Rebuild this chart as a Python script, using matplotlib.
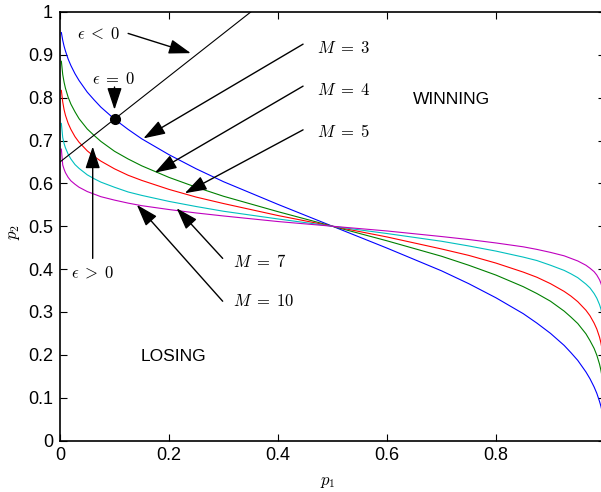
import numpy as np
import matplotlib
matplotlib.use('agg')
import matplotlib.pyplot as plt

plt.rcParams['mathtext.fontset'] = 'cm'
plt.rcParams['font.family'] = ['Liberation Sans', 'DejaVu Sans']

# p1 grid and p2 values, one list per M
p1 = [0.0025, 0.005, 0.0075, 0.01, 0.015, 0.02, 0.0275, 0.035, 0.05, 0.0625, 0.075, 0.1, 0.125, 0.15,
      0.2, 0.25, 0.3, 0.4, 0.5, 0.6, 0.7, 0.75, 0.8, 0.85, 0.875, 0.9, 0.925, 0.9375, 0.95, 0.965,
      0.9725, 0.98, 0.985, 0.99, 0.9925, 0.995, 0.9975]
p2_m3 = [0.952, 0.934, 0.920, 0.909, 0.890, 0.875, 0.856, 0.840, 0.813, 0.795, 0.778, 0.750, 0.726, 0.704,
         0.667, 0.634, 0.604, 0.551, 0.500, 0.449, 0.396, 0.366, 0.333, 0.296, 0.274, 0.250, 0.222, 0.205,
         0.187, 0.160, 0.144, 0.125, 0.110, 0.091, 0.080, 0.066, 0.048]
p2_m4 = [0.885, 0.854, 0.836, 0.822, 0.801, 0.785, 0.767, 0.751, 0.727, 0.712, 0.698, 0.675, 0.657, 0.641,
         0.614, 0.591, 0.570, 0.534, 0.500, 0.466, 0.430, 0.409, 0.386, 0.359, 0.343, 0.325, 0.302, 0.288,
         0.273, 0.249, 0.233, 0.215, 0.199, 0.178, 0.164, 0.146, 0.115]
p2_m5 = [0.817, 0.790, 0.772, 0.759, 0.740, 0.726, 0.709, 0.696, 0.676, 0.663, 0.652, 0.634, 0.619, 0.607,
         0.586, 0.568, 0.553, 0.525, 0.500, 0.475, 0.447, 0.432, 0.414, 0.393, 0.381, 0.366, 0.348, 0.337,
         0.324, 0.304, 0.291, 0.274, 0.260, 0.241, 0.228, 0.210, 0.183]
p2_m7 = [0.740, 0.707, 0.693, 0.683, 0.668, 0.657, 0.644, 0.635, 0.620, 0.611, 0.603, 0.591, 0.580, 0.572,
         0.558, 0.546, 0.535, 0.517, 0.500, 0.483, 0.465, 0.454, 0.442, 0.428, 0.420, 0.409, 0.397, 0.389,
         0.380, 0.365, 0.356, 0.343, 0.332, 0.317, 0.307, 0.293, 0.260]
p2_m10 = [0.680, 0.643, 0.633, 0.625, 0.614, 0.606, 0.598, 0.591, 0.581, 0.575, 0.569, 0.561, 0.554, 0.548,
          0.539, 0.531, 0.524, 0.511, 0.500, 0.489, 0.476, 0.469, 0.461, 0.452, 0.446, 0.439, 0.431, 0.425,
          0.419, 0.409, 0.402, 0.394, 0.386, 0.375, 0.367, 0.357, 0.320]

curves = [p2_m3, p2_m4, p2_m5, p2_m7, p2_m10]
colors = [(0, 0, 1), (0, 0.5, 0), (1, 0, 0), (0, 0.75, 0.75), (0.75, 0, 0.75)]

# epsilon = 0 line and the marked point
eps_p1 = [0.0, 0.35]
eps_p2 = [0.65, 1.0]
dot_p1, dot_p2 = 0.1, 0.75

xticks = [0, 0.2, 0.4, 0.6, 0.8, 1.0]
xtick_labels = ['0', '0.2', '0.4', '0.6', '0.8', '']
yticks = [0, 0.1, 0.2, 0.3, 0.4, 0.5, 0.6, 0.7, 0.8, 0.9, 1.0]
ytick_labels = ['0', '0.1', '0.2', '0.3', '0.4', '0.5', '0.6', '0.7', '0.8', '0.9', '1']

# (label, text pos, arrow start, arrow tip)
notes = [
    (r'$\epsilon\;<\;0$', (0.0716, 0.9487), (0.125, 0.950), (0.240, 0.904)),
    (r'$\epsilon\;=\;0$', (0.099, 0.844), (0.1, 0.825), (0.1, 0.772)),
    (r'$\epsilon\;>\;0$', (0.0596, 0.393), (0.06, 0.425), (0.06, 0.686)),
]
m_notes = [
    (r'$M\;=\;3$', (0.471, 0.917), (0.446, 0.925), (0.153, 0.705)),
    (r'$M\;=\;4$', (0.471, 0.818), (0.446, 0.827), (0.174, 0.625)),
    (r'$M\;=\;5$', (0.471, 0.721), (0.446, 0.725), (0.229, 0.577)),
    (r'$M\;=\;7$', (0.3174, 0.4166), (0.2985, 0.425), (0.214, 0.542)),
    (r'$M\;=\;10$', (0.3174, 0.3256), (0.2985, 0.325), (0.141, 0.550)),
]

fig = plt.figure(figsize=(6.01, 4.92), dpi=100)
ax = fig.add_axes([60/601, 51.5/492, 545/601, 428.5/492])

for ys, c in zip(curves, colors):
    ax.plot(p1, ys, color=c, lw=0.8)

ax.plot(eps_p1, eps_p2, color='k', lw=0.8)
ax.plot([dot_p1], [dot_p2], 'o', color='k', ms=7)

arrow = dict(arrowstyle='-|>,head_length=0.9,head_width=0.3', mutation_scale=15,
             color='k', lw=1.0, shrinkA=0, shrinkB=0)
for label, tpos, start, tip in notes:
    ax.text(tpos[0], tpos[1], label, fontsize=12, ha='center', va='center')
    ax.annotate('', xy=tip, xytext=start, arrowprops=arrow)
for label, tpos, start, tip in m_notes:
    ax.text(tpos[0], tpos[1], label, fontsize=12, ha='left', va='center')
    ax.annotate('', xy=tip, xytext=start, arrowprops=arrow)

ax.text(0.719, 0.795, 'WINNING', fontsize=12.5, ha='center', va='center')
ax.text(0.208, 0.195, 'LOSING', fontsize=12.5, ha='center', va='center')

ax.set_xlim(0, 1)
ax.set_ylim(0, 1)
ax.set_xticks(xticks)
ax.set_xticklabels(xtick_labels)
ax.set_yticks(yticks)
ax.set_yticklabels(ytick_labels)
ax.tick_params(direction='in', length=5, width=0.8, top=True, right=True, labelsize=13, pad=5)
for s in ax.spines.values():
    s.set_linewidth(1.2)

ax.text(0.492, -0.099, '$p_1$', transform=ax.transAxes, fontsize=12, ha='center', va='center')
ax.text(-0.083, 0.4866, '$p_2$', transform=ax.transAxes, fontsize=12, ha='center', va='center', rotation=90)

fig.savefig('out.png', dpi=100)
